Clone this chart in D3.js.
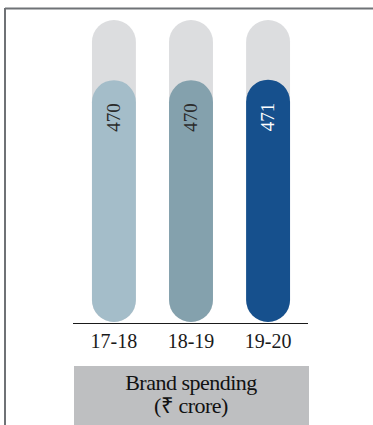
<!DOCTYPE html>
<html>
<head>
<meta charset="utf-8">
<script src="https://cdnjs.cloudflare.com/ajax/libs/d3/7.8.5/d3.min.js"></script>
<style>
  body { margin: 0; background: #fff; }
  svg { display: block; }
</style>
</head>
<body>
<div id="chart"></div>
<script>
var years = ["17-18", "18-19", "19-20"];
var spending = [470, 470, 471];
var barColors = ["#a4bdc9", "#84a1ad", "#16508d"];
var labelColors = ["#2b2b2b", "#2b2b2b", "#ffffff"];
var trackMax = 587;
var titleLines = ["Brand spending", "(₹ crore)"];

var width = 373,
  height = 425;
var serif = "'Liberation Serif'";

var svg = d3.select("#chart")
  .append("svg")
  .attr("width", width)
  .attr("height", height);

// frame
svg.append("line")
  .attr("x1", 5).attr("x2", width)
  .attr("y1", 8.5).attr("y2", 8.5)
  .attr("stroke", "#6f7276")
  .attr("stroke-width", 2);
svg.append("line")
  .attr("x1", 5).attr("x2", 5)
  .attr("y1", 8).attr("y2", height)
  .attr("stroke", "#6f7276")
  .attr("stroke-width", 2);

var x = d3.scaleBand()
  .domain(years)
  .range([75, 307])
  .paddingInner(0.43)
  .paddingOuter(0.22);

var y = d3.scaleLinear()
  .domain([0, trackMax])
  .range([322, 20]);

var bw = x.bandwidth();

// grey tracks
svg.selectAll(".track")
  .data(years)
  .enter().append("rect")
  .attr("class", "track")
  .attr("x", function (d) { return x(d); })
  .attr("y", y(trackMax))
  .attr("width", bw)
  .attr("height", y(0) - y(trackMax))
  .attr("rx", bw / 2)
  .attr("ry", bw / 2)
  .attr("fill", "#dcdddf");

// value bars
svg.selectAll(".bar")
  .data(spending)
  .enter().append("rect")
  .attr("class", "bar")
  .attr("x", function (d, i) { return x(years[i]); })
  .attr("y", function (d) { return y(d); })
  .attr("width", bw)
  .attr("height", function (d) { return y(0) - y(d); })
  .attr("rx", bw / 2)
  .attr("ry", bw / 2)
  .attr("fill", function (d, i) { return barColors[i]; });

// rotated value labels
svg.selectAll(".val")
  .data(spending)
  .enter().append("text")
  .attr("class", "val")
  .attr("transform", function (d, i) {
    return "translate(" + (x(years[i]) + bw / 2 + 6) + "," + (y(d) + 23) + ") rotate(-90)";
  })
  .attr("text-anchor", "end")
  .style("font-family", serif)
  .style("font-size", "19px")
  .attr("fill", function (d, i) { return labelColors[i]; })
  .text(function (d) { return d; });

// axis
var axis = svg.append("g")
  .attr("transform", "translate(0," + 323 + ")")
  .call(d3.axisBottom(x).tickSize(0).tickPadding(0));
axis.select(".domain")
  .attr("d", "M73,0.5H308")
  .attr("stroke", "#1a1a1a")
  .attr("stroke-width", 1.2);
axis.selectAll(".tick text")
  .attr("y", 25)
  .attr("dy", 0)
  .style("font-family", serif)
  .style("font-size", "20px")
  .attr("fill", "#1a1a1a");

// title box
svg.append("rect")
  .attr("x", 74)
  .attr("y", 366)
  .attr("width", 235)
  .attr("height", height - 366)
  .attr("fill", "#bebfc1");

svg.selectAll(".title")
  .data(titleLines)
  .enter().append("text")
  .attr("class", "title")
  .attr("x", 191)
  .attr("y", function (d, i) { return 390 + i * 23; })
  .attr("text-anchor", "middle")
  .style("font-family", serif)
  .style("font-size", "22px")
  .style("letter-spacing", "-0.5px")
  .attr("fill", "#111")
  .text(function (d) { return d; });
</script>
</body>
</html>
